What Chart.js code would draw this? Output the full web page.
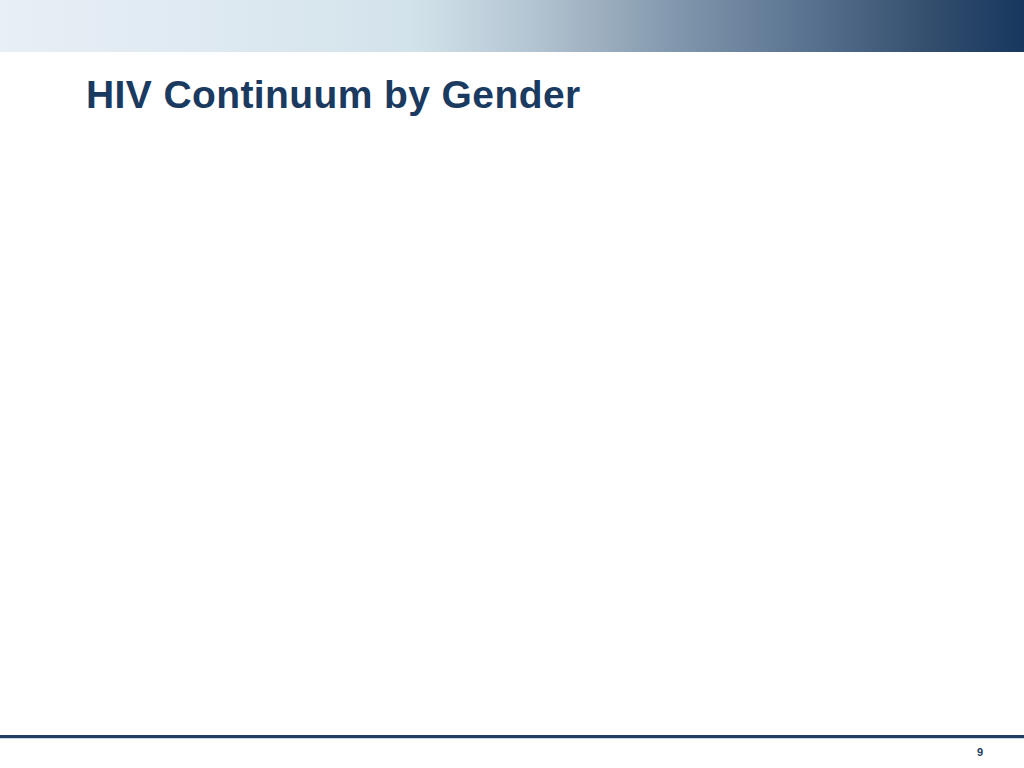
<!DOCTYPE html>
<html>
<head>
<meta charset="utf-8">
<script src="https://cdn.jsdelivr.net/npm/chart.js@4.4.0/dist/chart.umd.min.js"></script>
<style>
  html, body { margin: 0; padding: 0; background: #ffffff; }
  body { width: 1024px; height: 768px; position: relative; overflow: hidden; font-family: "Liberation Sans", Arial, sans-serif; }
  #header { position: absolute; left: 0; top: 0; width: 1024px; height: 52px;
    background: linear-gradient(to right, #e8eff6 0%, #dce8f0 25%, #d3e3eb 40%, #b9cad7 50%, #9fb1c1 58%, #7a91a8 68%, #566f8d 80%, #36506f 90%, #17375e 100%); }
  #title { position: absolute; left: 86px; top: 73px; margin: 0; font-size: 39px; line-height: 1.117; font-weight: bold; color: #1b3a5f; letter-spacing: 0.4px; white-space: nowrap; }
  #chartwrap { position: absolute; left: 60px; top: 140px; width: 900px; height: 580px; }
  #bottomline { position: absolute; left: 0; top: 735px; width: 1024px; height: 3px; background: #1f3d63; }
  #bottomline2 { position: absolute; left: 0; top: 738px; width: 1024px; height: 1px; background: #c9d9e6; }
  #pagenum { position: absolute; left: 977px; top: 746px; font-size: 11px; font-weight: bold; color: #1b3a5f; }
</style>
</head>
<body>
<div id="header"></div>
<h1 id="title">HIV Continuum by Gender</h1>
<div id="chartwrap"><canvas id="c"></canvas></div>
<div id="bottomline"></div>
<div id="bottomline2"></div>
<div id="pagenum">9</div>
<script>
// The reference slide shows no chart marks: empty data.
const categories = [];
const seriesValues = [];
const tickLabels = [];

new Chart(document.getElementById('c'), {
  type: 'bar',
  data: { labels: categories, datasets: [{ label: '', data: seriesValues, backgroundColor: '#17375e' }] },
  options: {
    responsive: true,
    maintainAspectRatio: false,
    animation: false,
    plugins: { legend: { display: false }, tooltip: { enabled: false } },
    scales: { x: { display: false }, y: { display: false } }
  }
});
</script>
</body>
</html>
